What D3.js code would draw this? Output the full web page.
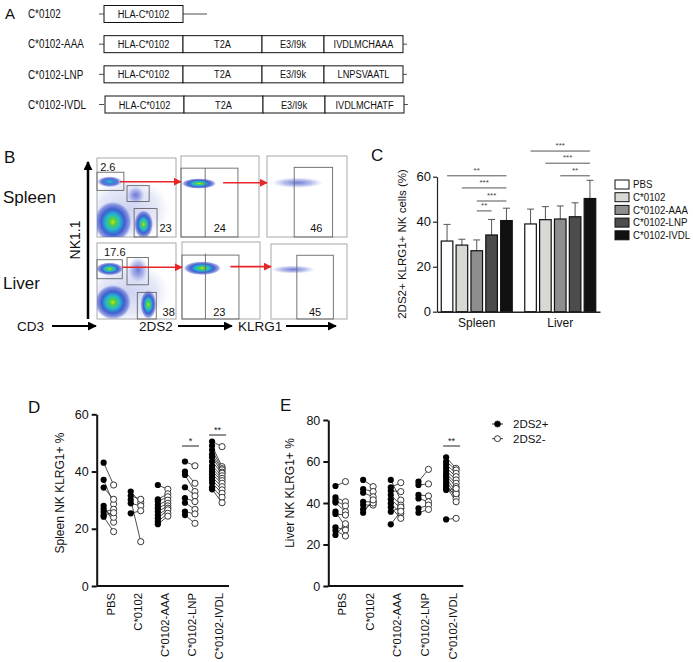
<!DOCTYPE html>
<html>
<head>
<meta charset="utf-8">
<title>HLA-C*0102 constructs and 2DS2+ NK cells</title>
<style>
  body { margin: 0; background: #fff; }
  text { font-family: "Liberation Sans", Arial, sans-serif; fill: #111; }
</style>
</head>
<body>
<script src="https://cdn.jsdelivr.net/npm/d3@7"></script>
<script>
// ---------- data ----------
// panel A: constructs
const constructs = ["C*0102", "C*0102-AAA", "C*0102-LNP", "C*0102-IVDL"];
const blockNames = ["HLA-C*0102", "T2A", "E3/I9k"];
const peptides = [null, "IVDLMCHAAA", "LNPSVAATL", "IVDLMCHATF"];
const blockLength = [79, 79, 62, 79];

// panel B: flow plots, coords 0-100 inside each plot  [row, col, u, v, ru, rv, level]
const flowRows = ["Spleen", "Liver"];
const flowBlobs = [
  ["Spleen", 0, 40, 35, 52, 40, "speck"],
  ["Spleen", 0, 16, 70, 16, 7, "mid"], ["Spleen", 0, 49, 53, 11, 11, "faint"],
  ["Spleen", 0, 20, 19, 24, 26, "hot"], ["Spleen", 0, 59, 16, 12, 18, "hot"],
  ["Spleen", 1, 23, 66, 22, 6.5, "hot"], ["Spleen", 2, 38, 67, 32, 6.5, "faint"],
  ["Liver", 0, 40, 35, 52, 40, "speck"],
  ["Liver", 0, 16, 66, 17, 8.5, "hot"], ["Liver", 0, 52, 65, 13, 17, "faint"],
  ["Liver", 0, 20, 22, 23, 23, "hot"], ["Liver", 0, 65, 19, 10, 19, "hot"],
  ["Liver", 1, 26, 66, 24, 9, "hot"], ["Liver", 2, 29, 66, 29, 5.5, "faint"]
];
// gates [row, col, u0, u1, v0, v1]
const flowGates = [
  ["Spleen", 0, 0, 34, 59, 82], ["Spleen", 0, 38, 66, 45, 65], ["Spleen", 0, 47, 76, 0, 36],
  ["Spleen", 1, 0, 73, 0, 85], ["Spleen", 2, 34, 82, 0, 86],
  ["Liver", 0, 0, 32, 53, 78], ["Liver", 0, 38, 65, 45, 81], ["Liver", 0, 51, 75, 0, 35],
  ["Liver", 1, 0, 73, 0, 83], ["Liver", 2, 34, 82, 0, 85]
];
const flowDividers = [["Spleen", 1, 31], ["Liver", 1, 30]];
const flowPct = [
  ["Spleen", 0, 4, 84, "2.6"], ["Spleen", 0, 79, 6, "23"], ["Spleen", 1, 42, 6, "24"], ["Spleen", 2, 54, 6, "46"],
  ["Liver", 0, 9, 83, "17.6"], ["Liver", 0, 83, 4, "38"], ["Liver", 1, 40, 4, "23"], ["Liver", 2, 50, 4, "45"]
];
// red gating arrows [row, fromCol, u, v]
const flowArrows = [["Spleen", 0, 29, 70], ["Spleen", 1, 54, 67], ["Liver", 0, 32, 68], ["Liver", 1, 62, 68]];
const flowAxes = ["CD3", "2DS2", "KLRG1"];

// panel C: bar chart
const cGroups = ["Spleen", "Liver"];
const cSeries = ["PBS", "C*0102", "C*0102-AAA", "C*0102-LNP", "C*0102-IVDL"];
const cColors = ["#ffffff", "#d8d8d4", "#8e8e8e", "#4c4c4c", "#111111"];
const spleenMean = [31.4, 29.6, 27.1, 34.1, 40.5];
const spleenSD = [7.4, 2.6, 4.8, 6.9, 5.5];
const liverMean = [39.0, 40.9, 41.2, 42.2, 50.3];
const liverSD = [6.6, 5.8, 5.8, 6.2, 8.1];
// significance [from, to, level, stars]
const spleenSig = [[0, 4, 60.4, "**"], [1, 4, 55, "***"], [2, 4, 49.2, "***"], [2, 3, 44.8, "**"]];
const liverSig = [[0, 4, 71.4, "***"], [1, 4, 66, "***"], [2, 4, 60.4, "**"]];
const cTicks = [0, 20, 40, 60];

// panels D and E: paired 2DS2+ / 2DS2- values per mouse
const groups = ["PBS", "C*0102", "C*0102-AAA", "C*0102-LNP", "C*0102-IVDL"];
const spleenPos = [
  [43.1, 37.1, 34.4, 28.0, 27.0, 25.9, 24.8, 24.2],
  [33.0, 31.5, 30.1, 28.9, 25.4],
  [35.3, 30.3, 29.5, 28.3, 27.2, 26.0, 24.8, 23.7, 22.5, 21.6],
  [43.5, 40.0, 38.8, 34.5, 30.7, 29.1, 26.0, 24.8],
  [50.5, 49.0, 47.5, 46.0, 45.0, 43.5, 42.0, 41.0, 40.0, 39.0, 38.0, 37.0, 36.0, 34.5, 33.8]
];
const spleenNeg = [
  [35.3, 28.6, 30.3, 22.3, 24.0, 26.8, 25.6, 19.0],
  [29.1, 30.3, 15.5, 28.0, 26.3],
  [33.8, 32.2, 31.2, 30.0, 28.9, 28.0, 27.2, 26.6, 25.4, 24.4],
  [42.0, 35.9, 33.0, 31.5, 29.5, 26.8, 25.2, 21.9],
  [48.7, 41.7, 41.0, 40.6, 39.8, 39.4, 38.5, 37.6, 36.8, 35.9, 34.7, 33.6, 32.4, 31.0, 29.1]
];
const liverPos = [
  [48.2, 42.7, 41.1, 40.2, 35.8, 34.7, 28.3, 26.7, 24.6],
  [51.1, 46.7, 45.0, 40.6, 39.0, 36.9, 35.3],
  [51.1, 47.5, 45.9, 43.9, 41.8, 39.8, 37.9, 35.8, 29.7],
  [50.3, 48.7, 43.9, 42.2, 37.4, 35.3],
  [62.0, 60.0, 58.5, 57.0, 55.5, 54.0, 53.0, 52.0, 50.5, 49.0, 48.0, 47.0, 46.3, 32.1]
];
const liverNeg = [
  [50.3, 40.6, 38.6, 35.8, 28.6, 34.2, 27.0, 24.1, 30.0],
  [47.9, 45.5, 43.0, 40.6, 39.0, 40.0, 41.5],
  [41.4, 49.8, 45.5, 39.0, 37.4, 35.0, 32.6, 38.0, 36.0],
  [56.2, 49.2, 43.4, 40.6, 39.0, 36.9],
  [56.7, 55.9, 54.3, 52.7, 51.1, 49.5, 47.9, 45.5, 43.9, 42.2, 40.6, 44.5, 47.0, 32.6]
];
const spleenTicks = [0, 20, 40, 60];
const liverTicks = [0, 20, 40, 60, 80];
const spleenPairSig = [[3, 446, "*"], [4, 435, "**"]];
const liverPairSig = [[4, 446, "**"]];

// ---------- drawing ----------
const W = 693, H = 662;

const svg = d3.select("body").append("svg")
  .attr("width", W).attr("height", H)
  .style("background", "#fff");

const defs = svg.append("defs");
function marker(id, color, size) {
  defs.append("marker")
    .attr("id", id).attr("viewBox", "0 0 10 10")
    .attr("refX", 9).attr("refY", 5)
    .attr("markerWidth", size).attr("markerHeight", size)
    .attr("markerUnits", "userSpaceOnUse")
    .attr("orient", "auto")
    .append("path").attr("d", "M0,0 L10,5 L0,10 z").attr("fill", color);
}
marker("arrowBlack", "#000", 9);
marker("arrowRed", "#e8262a", 8);

function gradient(id, stops) {
  const g = defs.append("radialGradient").attr("id", id);
  stops.forEach(s => g.append("stop").attr("offset", s[0]).attr("stop-color", s[1]).attr("stop-opacity", s[2]));
}
gradient("hot", [[0, "#d4e400", 1], [0.16, "#50d048", 1], [0.38, "#22b8d0", 1], [0.62, "#2c50cc", 0.9], [0.85, "#3c50cc", 0.55], [1, "#6070d8", 0]]);
gradient("mid", [[0, "#28c8d8", 1], [0.3, "#2c80d4", 0.95], [0.65, "#3048c8", 0.75], [1, "#5060d0", 0]]);
gradient("faint", [[0, "#4050c8", 0.75], [0.55, "#6070d4", 0.45], [1, "#8090e0", 0]]);
gradient("speck", [[0, "#5868d0", 0.3], [0.7, "#7080d8", 0.18], [1, "#90a0e0", 0]]);

function letter(t, x, y, size) {
  svg.append("text").attr("x", x).attr("y", y)
    .style("font-size", size + "px").text(t);
}
// condensed text (the original uses a narrow face)
function narrowText(g, t, x, y, size, anchor, sx) {
  return g.append("text").attr("transform", `translate(${x},${y}) scale(${sx},1)`)
    .attr("dy", "0.35em").attr("text-anchor", anchor)
    .style("font-size", size + "px").text(t);
}

// ===== Panel A =====
letter("A", 5, 19, 15);
const yA = d3.scalePoint().domain(constructs).range([14, 104.5]);
const xA = d3.scaleLinear().domain([0, 299]).range([104, 403]);
const boxH = 17;
const gA = svg.append("g");
constructs.forEach((c, i) => {
  const yc = yA(c);
  narrowText(gA, c, 28, yc, 12, "start", 0.82);
  const names = peptides[i] ? blockNames.concat([peptides[i]]) : [blockNames[0]];
  let start = 0;
  const shift = i === 3 ? 1 : 0;
  gA.append("line").attr("x1", xA(-5)).attr("x2", xA(0))
    .attr("y1", yc).attr("y2", yc).attr("stroke", "#222").attr("stroke-width", 0.8);
  names.forEach((n, j) => {
    gA.append("rect").attr("x", xA(start) + shift).attr("y", yc - boxH / 2)
      .attr("width", xA(blockLength[j]) - xA(0)).attr("height", boxH)
      .attr("fill", "#fff").attr("stroke", "#111").attr("stroke-width", 1);
    narrowText(gA, n, xA(start + blockLength[j] / 2) + shift, yc, 11.5, "middle", 0.8);
    start += blockLength[j];
  });
  const tail = i === 0 ? 24 : 4;
  gA.append("line").attr("x1", xA(start) + shift).attr("x2", xA(start + tail) + shift)
    .attr("y1", yc).attr("y2", yc).attr("stroke", "#222").attr("stroke-width", 0.8);
});

// ===== Panel B =====
letter("B", 4, 163, 17);
const flowFrames = {
  Spleen: [[97, 176, 158, 237], [181, 259, 156, 237], [267, 347, 156, 237]],
  Liver: [[97, 176, 243, 319], [182, 260, 242, 319], [271, 347, 244, 319]]
};
function plotScales(row, col) {
  const f = flowFrames[row][col];
  return {
    x: d3.scaleLinear().domain([0, 100]).range([f[0], f[1]]),
    y: d3.scaleLinear().domain([0, 100]).range([f[3], f[2]])
  };
}
const gB = svg.append("g");
flowRows.forEach((row, r) => {
  gB.append("text").attr("x", 3).attr("y", r === 0 ? 203 : 289)
    .style("font-size", "17px").text(row);
  flowFrames[row].forEach((f, col) => {
    gB.append("rect").attr("x", f[0]).attr("y", f[2])
      .attr("width", f[1] - f[0]).attr("height", f[3] - f[2])
      .attr("fill", "#fff").attr("stroke", "#a8a8a8").attr("stroke-width", 1);
  });
});
flowRows.forEach(row => {
  flowFrames[row].forEach((f, col) => {
    defs.append("clipPath").attr("id", `clip-${row}-${col}`)
      .append("rect").attr("x", f[0]).attr("y", f[2])
      .attr("width", f[1] - f[0]).attr("height", f[3] - f[2]);
  });
});
flowBlobs.forEach(b => {
  const s = plotScales(b[0], b[1]);
  gB.append("ellipse")
    .attr("clip-path", `url(#clip-${b[0]}-${b[1]})`)
    .attr("cx", s.x(b[2])).attr("cy", s.y(b[3]))
    .attr("rx", s.x(b[4]) - s.x(0)).attr("ry", s.y(0) - s.y(b[5]))
    .attr("fill", `url(#${b[6]})`);
});
flowGates.forEach(g => {
  const s = plotScales(g[0], g[1]);
  gB.append("rect").attr("x", s.x(g[2])).attr("y", s.y(g[5]))
    .attr("width", s.x(g[3]) - s.x(g[2])).attr("height", s.y(g[4]) - s.y(g[5]))
    .attr("fill", "none").attr("stroke", "#666").attr("stroke-width", 0.9);
});
flowDividers.forEach(d => {
  const s = plotScales(d[0], d[1]);
  gB.append("line").attr("x1", s.x(d[2])).attr("x2", s.x(d[2]))
    .attr("y1", s.y(0)).attr("y2", s.y(85))
    .attr("stroke", "#666").attr("stroke-width", 0.9);
});
flowPct.forEach(p => {
  const s = plotScales(p[0], p[1]);
  gB.append("text").attr("x", s.x(p[2])).attr("y", s.y(p[3]))
    .style("font-size", "11px").text(p[4]);
});
flowArrows.forEach(a => {
  const s = plotScales(a[0], a[1]);
  const t = plotScales(a[0], a[1] + 1);
  gB.append("line").attr("x1", s.x(a[2])).attr("x2", t.x(0))
    .attr("y1", s.y(a[3])).attr("y2", s.y(a[3]))
    .attr("stroke", "#e8262a").attr("stroke-width", 1.6)
    .attr("marker-end", "url(#arrowRed)");
});
// axis arrows
gB.append("line").attr("x1", 88).attr("x2", 88).attr("y1", 319).attr("y2", 162)
  .attr("stroke", "#000").attr("stroke-width", 2.5).attr("marker-end", "url(#arrowBlack)");
gB.append("text").attr("transform", "translate(80,240) rotate(-90)")
  .attr("text-anchor", "middle").style("font-size", "14px").text("NK1.1");
const axisPos = [[17, 52, 96], [139, 178, 232], [238, 286, 336]];
flowAxes.forEach((a, i) => {
  const p = axisPos[i];
  gB.append("text").attr("x", p[0]).attr("y", 331).style("font-size", "13.5px").text(a);
  gB.append("line").attr("x1", p[1]).attr("x2", p[2]).attr("y1", 326).attr("y2", 326)
    .attr("stroke", "#000").attr("stroke-width", 2).attr("marker-end", "url(#arrowBlack)");
});

// ===== Panel C =====
letter("C", 371, 161, 17);
const gC = svg.append("g");
const yC = d3.scaleLinear().domain([0, 60]).range([311.7, 176.7]);
const x0C = d3.scaleBand().domain(cGroups).range([437, 600]).paddingInner(0.15).paddingOuter(0.051);
const x1C = d3.scaleBand().domain(cSeries).range([0, x0C.bandwidth()]).paddingInner(0.22);
const cMeans = { Spleen: spleenMean, Liver: liverMean };
const cSDs = { Spleen: spleenSD, Liver: liverSD };
const cSigs = { Spleen: spleenSig, Liver: liverSig };

cGroups.forEach(gname => {
  const g = gC.append("g").attr("transform", `translate(${x0C(gname)},0)`);
  const rows = cSeries.map((s, i) => ({ s: s, i: i, m: cMeans[gname][i], sd: cSDs[gname][i] }));
  // error bars
  g.selectAll(".err").data(rows).enter().append("line")
    .attr("x1", d => x1C(d.s) + x1C.bandwidth() / 2).attr("x2", d => x1C(d.s) + x1C.bandwidth() / 2)
    .attr("y1", d => yC(d.m)).attr("y2", d => yC(d.m + d.sd))
    .attr("stroke", "#555").attr("stroke-width", 1);
  g.selectAll(".cap").data(rows).enter().append("line")
    .attr("x1", d => x1C(d.s) + x1C.bandwidth() / 2 - 3.5).attr("x2", d => x1C(d.s) + x1C.bandwidth() / 2 + 3.5)
    .attr("y1", d => yC(d.m + d.sd)).attr("y2", d => yC(d.m + d.sd))
    .attr("stroke", "#555").attr("stroke-width", 1);
  g.selectAll("rect").data(rows).enter().append("rect")
    .attr("x", d => x1C(d.s)).attr("width", x1C.bandwidth())
    .attr("y", d => yC(d.m)).attr("height", d => yC(0) - yC(d.m))
    .attr("fill", d => cColors[d.i]).attr("stroke", "#111").attr("stroke-width", 1.2);
  // significance
  cSigs[gname].forEach(sg => {
    const xa = x1C(cSeries[sg[0]]) + x1C.bandwidth() / 2;
    const xb = x1C(cSeries[sg[1]]) + x1C.bandwidth() / 2;
    g.append("line").attr("x1", xa).attr("x2", xb).attr("y1", yC(sg[2])).attr("y2", yC(sg[2]))
      .attr("stroke", "#555").attr("stroke-width", 1);
    g.append("text").attr("x", (xa + xb) / 2).attr("y", yC(sg[2]) - 3)
      .attr("text-anchor", "middle").style("font-size", "8px").style("fill", "#444").text(sg[3]);
  });
});
gC.append("g").attr("transform", "translate(437,0)")
  .call(d3.axisLeft(yC).tickValues(cTicks).tickSize(4).tickPadding(2).tickSizeOuter(0))
  .call(a => a.selectAll("text").style("font-size", "13px"))
  .call(a => a.selectAll("line,path").attr("stroke", "#222").attr("stroke-width", 1.2));
gC.append("g").attr("transform", `translate(0,${yC(0)})`)
  .call(d3.axisBottom(x0C).tickSize(0).tickPadding(7).tickSizeOuter(0))
  .call(a => a.selectAll("text").style("font-size", "12px"))
  .call(a => a.select("path").attr("stroke", "#222").attr("stroke-width", 1.6));
gC.append("text").attr("transform", "translate(406,244) rotate(-90)")
  .attr("text-anchor", "middle").style("font-size", "11.5px")
  .text("2DS2+ KLRG1+ NK cells (%)");
// legend
const legC = gC.append("g").attr("transform", "translate(615,180)");
cSeries.forEach((s, i) => {
  legC.append("rect").attr("x", 0).attr("y", i * 12.7).attr("width", 14).attr("height", 9)
    .attr("fill", cColors[i]).attr("stroke", "#111").attr("stroke-width", 1);
  narrowText(legC, s, 18, i * 12.7 + 4.5, 11, "start", 0.88);
});

// ===== Panels D and E =====
function pairedPanel(opt) {
  const g = svg.append("g");
  const y = d3.scaleLinear().domain([0, opt.max]).range([586, opt.top]);
  const x = d3.scalePoint().domain(groups).range([opt.left, opt.right]).padding(0.44);
  letter(opt.letter, opt.letterX, opt.letterY, 17);
  g.append("g").attr("transform", `translate(${opt.left},0)`)
    .call(d3.axisLeft(y).tickValues(opt.ticks).tickSize(5).tickPadding(3).tickSizeOuter(0))
    .call(a => a.selectAll("text").style("font-size", "12.5px"))
    .call(a => a.selectAll("line,path").attr("stroke", "#111").attr("stroke-width", 2));
  g.append("line").attr("x1", opt.left).attr("x2", opt.right)
    .attr("y1", y(0)).attr("y2", y(0)).attr("stroke", "#111").attr("stroke-width", 2);
  g.append("text").attr("transform", `translate(${opt.labelX},493) rotate(-90)`)
    .attr("text-anchor", "middle").style("font-size", "12px").text(opt.label);
  groups.forEach((grp, gi) => {
    g.append("text")
      .attr("transform", `translate(${x(grp) + opt.labelShift},${y(0) + 7}) rotate(-90)`)
      .attr("text-anchor", "end").attr("dy", "0.35em")
      .style("font-size", "11.3px").text(grp);
    const pos = opt.pos[gi], neg = opt.neg[gi];
    const pairs = pos.map((v, k) => ({ p: v, n: neg[k] }));
    g.selectAll(null).data(pairs).enter().append("line")
      .attr("x1", x(grp) - 5).attr("x2", x(grp) + 5)
      .attr("y1", d => y(d.p)).attr("y2", d => y(d.n))
      .attr("stroke", "#222").attr("stroke-width", 0.8);
    g.selectAll(null).data(neg).enter().append("circle")
      .attr("cx", x(grp) + 5).attr("cy", d => y(d)).attr("r", 3.1)
      .attr("fill", "#fff").attr("stroke", "#222").attr("stroke-width", 0.9);
    g.selectAll(null).data(pos).enter().append("circle")
      .attr("cx", x(grp) - 5).attr("cy", d => y(d)).attr("r", 3.1)
      .attr("fill", "#000");
  });
  opt.sig.forEach(s => {
    const xc = x(groups[s[0]]);
    g.append("line").attr("x1", xc - 8).attr("x2", xc + 9).attr("y1", s[1]).attr("y2", s[1])
      .attr("stroke", "#222").attr("stroke-width", 1);
    g.append("text").attr("x", xc + 0.5).attr("y", s[1] - 2.5).attr("text-anchor", "middle")
      .style("font-size", "9px").text(s[2]);
  });
  return g;
}

pairedPanel({
  letter: "D", letterX: 28, letterY: 413, left: 96.7, right: 229, top: 414.3, max: 60,
  ticks: spleenTicks, label: "Spleen NK KLRG1+ %", labelX: 64, labelShift: 2,
  pos: spleenPos, neg: spleenNeg, sig: spleenPairSig
});
pairedPanel({
  letter: "E", letterX: 280, letterY: 411, left: 328.3, right: 463.3, top: 420, max: 80,
  ticks: liverTicks, label: "Liver  NK KLRG1+ %", labelX: 294, labelShift: 1.5,
  pos: liverPos, neg: liverNeg, sig: liverPairSig
});

// legend for D/E
const legE = svg.append("g").attr("transform", "translate(492,424)");
["2DS2+", "2DS2-"].forEach((t, i) => {
  const yy = i * 14.7;
  legE.append("line").attr("x1", 0).attr("x2", 11).attr("y1", yy).attr("y2", yy)
    .attr("stroke", "#222").attr("stroke-width", 0.9);
  legE.append("circle").attr("cx", 5.5).attr("cy", yy).attr("r", 3)
    .attr("fill", i === 0 ? "#000" : "#fff").attr("stroke", "#222").attr("stroke-width", 0.9);
  legE.append("text").attr("x", 21).attr("y", yy).attr("dy", "0.36em")
    .style("font-size", "11.5px").text(t);
});
</script>
</body>
</html>
